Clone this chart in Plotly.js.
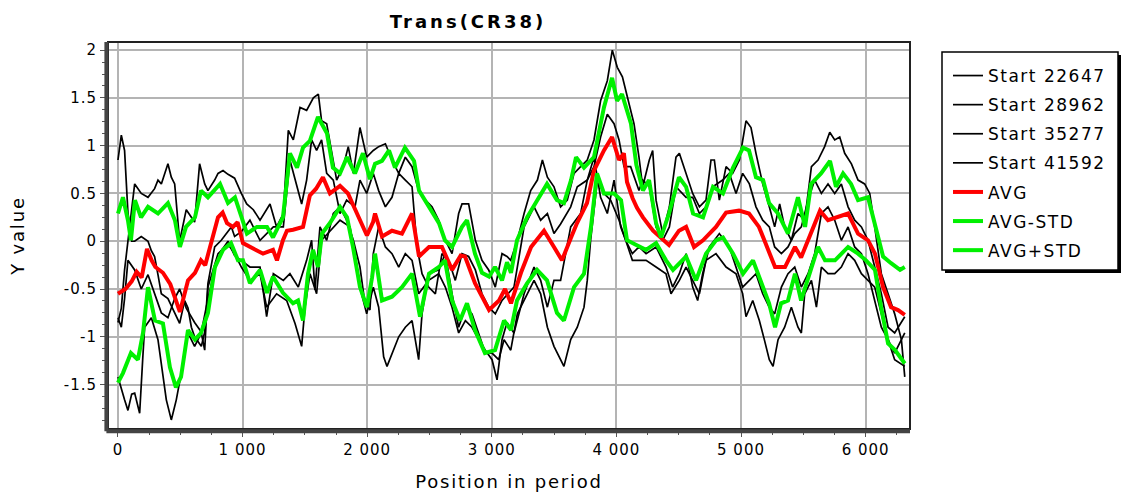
<!DOCTYPE html>
<html>
<head>
<meta charset="utf-8">
<script src="https://cdn.plot.ly/plotly-3.0.1.min.js"></script>
<style>
html, body { margin: 0; padding: 0; background: #ffffff; }
#chart { width: 1124px; height: 495px; }
.gtitle { letter-spacing: 3px; }
.xtitle, .ytitle { letter-spacing: 1.8px; }
.legendtext { letter-spacing: 1.5px; }
.xtick text, .ytick text { letter-spacing: 1px; }
</style>
</head>
<body>
<div id="chart"></div>
<script>
// ---- Data: [position, value] pairs ----
const start22647 = [[0,0.85],[27,1.11],[53,0.95],[80,0.3],[110,0.0],[134,0.0],[187,0.05],[241,0.0],[268,-0.1],[294,-0.16],[321,-0.35],[348,-0.55],[401,-0.6],[455,-0.76],[495,-0.86],[535,-0.62],[562,-0.7],[589,-0.9],[615,-1.0],[669,-1.1],[696,-0.95],[722,-0.44],[776,-0.06],[829,0.01],[870,0.08],[910,0.15],[936,0.05],[990,0.1],
[1059,0.22],[1140,0.01],[1247,0.15],[1327,0.15],[1380,0.85],[1434,0.57],[1474,0.39],[1514,0.64],[1554,1.06],[1594,0.95],[1634,1.06],[1675,0.71],[1728,0.64],[1782,0.29],[1835,0.43],[1902,0.36],[1942,0.64],[1996,0.5],[2049,0.71],
[2092,0.53],[2146,0.36],[2199,0.46],[2253,0.71],[2306,0.64],[2360,0.57],[2400,-0.06],[2440,-0.34],[2493,-0.48],[2547,-0.55],[2600,-0.13],[2654,-0.2],[2707,-0.41],[2761,-0.13],[2814,-0.16],[2868,-0.3],[2921,-0.55],[2975,-0.69],[3028,-0.76],[3082,-0.62],
[3178,-0.48],[3259,0.15],[3339,0.36],[3392,0.22],[3446,0.29],[3499,0.08],[3552,0.18],[3633,0.36],[3686,0.57],[3766,0.64],[3820,0.78],[3873,1.09],[3927,1.33],[3981,1.23],[4021,1.06],[4061,0.78],[4114,0.78],[4181,0.53],
[4211,0.64],[4264,0.57],[4318,0.15],[4371,0.01],[4425,0.15],[4478,0.57],[4559,0.46],[4612,0.46],[4666,0.29],[4719,0.36],[4773,0.57],[4853,0.64],[4906,0.71],[4960,0.5],[5013,0.71],[5067,0.6],[5120,0.36],[5174,0.22],[5227,0.15],
[5270,-0.06],[5324,-0.13],[5377,-0.06],[5431,0.08],[5484,0.15],[5538,0.43],[5591,0.64],[5645,0.5],[5698,0.6],[5752,0.5],[5805,0.6],[5859,0.36],[5912,0.22],[5966,0.15],[6019,0.01],[6073,-0.27],[6126,-0.55],[6180,-0.9],[6233,-0.96],[6314,-0.79]];

const start28962 = [[0,-0.85],[27,-0.7],[53,-0.3],[80,0.0],[110,0.35],[134,0.6],[187,0.5],[241,0.46],[294,0.55],[321,0.64],[348,0.6],[388,0.75],[401,0.81],[428,0.67],[455,0.6],[495,0.0],[548,0.33],[589,0.25],[615,0.2],[655,0.81],[696,0.6],[722,0.53],[776,0.64],[803,0.71],[843,0.74],[883,0.7],[936,0.66],[990,0.5],
[1033,0.39],[1086,0.33],[1140,0.22],[1220,0.39],[1273,0.15],[1327,0.29],[1367,1.16],[1407,1.06],[1461,1.4],[1514,1.37],[1568,1.5],[1608,1.54],[1634,1.26],[1675,1.23],[1715,0.95],[1755,0.64],[1808,0.78],[1848,0.99],[1889,0.71],[1942,1.19],[1996,0.88],[2049,0.95],
[2092,0.99],[2146,1.02],[2199,0.85],[2253,0.71],[2306,0.88],[2360,0.78],[2413,0.53],[2467,0.43],[2520,0.36],[2574,0.22],[2627,0.01],[2681,-0.13],[2734,0.29],[2761,0.39],[2814,0.39],[2868,0.01],[2921,-0.2],[2975,-0.3],[3028,-0.48],[3082,-0.13],[3122,-0.16],
[3152,-0.2],[3205,0.01],[3259,0.29],[3312,0.53],[3366,0.64],[3406,0.85],[3446,0.67],[3499,0.57],[3552,0.36],[3606,0.43],[3660,0.71],[3713,0.78],[3766,0.85],[3820,1.06],[3873,1.47],[3927,1.68],[3967,2.0],[4007,1.82],[4048,1.72],[4088,1.51],[4141,1.23],[4181,0.88],
[4211,0.57],[4264,0.85],[4291,0.95],[4318,0.43],[4371,0.08],[4425,0.36],[4478,0.88],[4505,0.92],[4559,0.71],[4612,0.5],[4666,0.36],[4719,0.43],[4759,0.85],[4786,0.85],[4826,0.43],[4880,0.78],[4933,0.71],[4987,0.85],[5040,1.26],[5080,1.19],[5120,0.92],[5174,0.6],[5227,0.36],
[5270,0.15],[5310,0.39],[5350,0.15],[5404,0.01],[5457,0.29],[5511,0.22],[5565,0.78],[5618,0.85],[5671,0.99],[5712,1.14],[5752,1.06],[5792,1.09],[5832,0.92],[5886,0.81],[5939,0.64],[5992,0.6],[6033,0.5],[6073,0.15],[6126,-0.34],[6180,-0.55],[6233,-0.76],[6287,-1.03],[6314,-1.42]];

const start35277 = [[0,-0.8],[27,-0.9],[53,-0.6],[80,-0.2],[134,-0.3],[187,-0.5],[241,-0.35],[294,-0.55],[348,-0.75],[401,-0.8],[455,-0.6],[495,-0.5],[548,-0.7],[615,-0.85],[669,-0.95],[722,-0.6],[776,-0.3],[829,-0.1],[883,0.0],[936,-0.15],[990,-0.2],
[1059,-0.27],[1140,-0.27],[1193,-0.79],[1247,-0.34],[1327,-0.41],[1380,-0.34],[1447,-0.48],[1514,-0.2],[1554,0.01],[1581,-0.51],[1621,0.15],[1675,0.01],[1728,0.29],[1782,0.36],[1835,0.22],[1889,0.01],[1942,-0.27],[1982,-0.65],[2022,-0.72],[2049,-0.13],
[2092,0.15],[2146,-0.06],[2199,-0.13],[2253,-0.27],[2306,-0.13],[2360,-0.2],[2413,-0.55],[2493,-0.41],[2574,-0.34],[2627,-0.48],[2681,-0.69],[2734,-0.96],[2788,-0.83],[2841,-0.9],[2895,-1.03],[2948,-1.14],[3002,-1.24],[3042,-1.45],[3082,-1.03],
[3122,-0.85],[3178,-0.96],[3259,-0.55],[3339,-0.27],[3392,-0.41],[3446,-0.69],[3499,-0.41],[3552,-0.41],[3633,0.15],[3713,0.29],[3766,0.64],[3820,0.88],[3873,0.46],[3927,0.29],[3981,0.64],[4034,0.15],[4074,0.01],[4128,-0.13],[4181,-0.06],
[4238,-0.13],[4318,-0.06],[4398,-0.27],[4451,-0.48],[4505,-0.34],[4559,-0.13],[4612,-0.48],[4652,-0.62],[4692,-0.34],[4746,-0.06],[4826,0.08],[4906,-0.06],[4960,-0.27],[5013,-0.48],[5067,-0.41],[5120,-0.34],[5174,-0.55],[5227,-0.69],
[5270,-0.76],[5324,-0.48],[5377,-0.34],[5431,-0.27],[5484,-0.48],[5538,-0.34],[5591,-0.13],[5645,0.29],[5698,0.36],[5752,0.22],[5805,0.01],[5859,0.15],[5912,-0.06],[5966,-0.13],[6019,-0.34],[6073,-0.62],[6126,-0.9],[6180,-1.03],[6233,-1.17],[6314,-0.96]];

const start41592 = [[0,-1.42],[27,-1.55],[53,-1.66],[80,-1.77],[110,-1.6],[134,-1.59],[174,-1.8],[200,-1.2],[214,-0.9],[241,-0.85],[268,-0.8],[321,-1.03],[388,-1.66],[428,-1.87],[468,-1.66],[508,-1.38],[562,-0.96],[615,-1.1],[669,-0.96],[696,-1.14],[722,-0.48],[803,-0.13],[883,-0.03],[936,-0.13],[990,-0.27],
[1059,-0.41],[1140,-0.34],[1193,-0.69],[1273,-0.55],[1354,-0.62],[1421,-0.86],[1474,-1.1],[1501,-0.69],[1541,-0.34],[1594,-0.55],[1634,0.01],[1701,0.11],[1782,0.22],[1862,0.15],[1915,-0.27],[1955,-0.55],[1996,-0.76],[2049,-0.48],
[2092,-0.69],[2132,-1.21],[2159,-1.31],[2199,-1.17],[2253,-1.0],[2306,-0.9],[2360,-0.83],[2413,-1.24],[2440,-0.76],[2493,-0.34],[2574,-0.3],[2627,-0.13],[2681,-0.55],[2734,-0.9],[2788,-0.69],[2841,-0.76],[2895,-0.96],[2948,-1.17],[3002,-1.17],[3055,-1.24],[3098,-1.03],
[3152,-1.14],[3205,-0.76],[3259,-0.62],[3339,-0.41],[3392,-0.55],[3446,-0.9],[3499,-1.1],[3539,-1.21],[3579,-1.31],[3633,-1.03],[3686,-0.9],[3740,-0.69],[3766,-0.41],[3793,0.01],[3847,0.64],[3900,0.5],[3954,0.43],[4021,0.22],[4074,0.01],[4128,-0.2],[4181,-0.2],
[4238,-0.2],[4318,-0.27],[4398,-0.34],[4438,-0.55],[4505,-0.41],[4559,-0.27],[4612,-0.41],[4666,-0.55],[4719,-0.2],[4799,-0.13],[4880,-0.27],[4960,-0.34],[5013,-0.55],[5040,-0.79],[5094,-0.62],[5147,-0.83],[5187,-1.03],[5227,-1.24],
[5257,-1.31],[5297,-1.03],[5350,-0.9],[5404,-0.69],[5457,-0.9],[5484,-0.96],[5511,-0.55],[5565,-0.41],[5605,-0.69],[5645,-0.27],[5698,-0.34],[5752,-0.34],[5805,-0.27],[5859,-0.13],[5912,-0.2],[5966,-0.34],[6019,-0.41],[6073,-0.48],[6126,-0.76],[6180,-1.03],[6233,-1.24],[6314,-1.31]];

const avg = [[0,-0.55],[60,-0.5],[110,-0.42],[150,-0.32],[190,-0.38],[233,-0.08],[270,-0.2],[300,-0.27],[361,-0.33],[420,-0.45],[497,-0.74],[530,-0.55],[562,-0.41],[618,-0.33],[666,-0.2],[700,-0.25],[746,-0.02],[803,0.25],[840,0.3],[875,0.19],[923,0.15],[960,0.2],[1003,-0.02],[1084,-0.08],[1164,-0.13],[1244,-0.09],[1276,-0.2],[1324,0.01],[1356,0.11],[1405,0.12],[1485,0.15],[1540,0.48],[1590,0.55],[1645,0.67],[1701,0.5],[1782,0.58],[1846,0.5],[1880,0.4],[1942,0.22],[1998,0.06],[2047,0.2],[2063,0.29],[2119,0.05],[2199,0.11],[2279,0.08],[2360,0.29],[2416,-0.16],[2496,-0.06],[2600,-0.06],[2681,-0.3],[2750,-0.15],[2785,-0.16],[2865,-0.44],[2930,-0.6],[2978,-0.72],[3058,-0.62],[3106,-0.5],[3154,-0.65],[3234,-0.33],[3315,-0.06],[3419,0.11],[3499,-0.06],[3563,-0.2],[3636,0.04],[3684,0.19],[3764,0.4],[3820,0.74],[3900,0.95],[3965,1.09],[4021,0.85],[4060,0.92],[4085,0.62],[4130,0.45],[4165,0.35],[4213,0.25],[4294,0.11],[4374,0.01],[4422,-0.04],[4502,0.11],[4559,0.15],[4623,-0.06],[4695,0.01],[4799,0.15],[4880,0.3],[4984,0.32],[5064,0.29],[5144,0.15],[5225,-0.1],[5273,-0.27],[5353,-0.27],[5433,-0.06],[5482,-0.17],[5562,0.08],[5634,0.32],[5698,0.22],[5778,0.25],[5859,0.29],[5939,0.08],[6019,0.01],[6075,-0.13],[6140,-0.48],[6204,-0.69],[6260,-0.72],[6314,-0.77]];

const avgMinusStd = [[0,-1.48],[40,-1.38],[104,-1.17],[160,-1.24],[201,-0.96],[241,-0.48],[297,-0.83],[361,-0.86],[417,-1.32],[465,-1.53],[506,-1.42],[562,-0.93],[618,-1.03],[666,-0.96],[722,-0.75],[778,-0.27],[843,-0.09],[907,-0.02],[963,-0.2],[1003,-0.2],[1059,-0.44],[1140,-0.3],[1196,-0.54],[1244,-0.37],[1324,-0.54],[1405,-0.65],[1445,-0.62],[1485,-0.83],[1525,-0.34],[1565,-0.09],[1605,-0.27],[1637,0.08],[1701,0.19],[1782,0.36],[1838,0.25],[1886,-0.06],[1942,-0.48],[1998,-0.69],[2039,-0.38],[2063,-0.13],[2119,-0.62],[2199,-0.58],[2279,-0.48],[2360,-0.34],[2424,-0.79],[2496,-0.34],[2576,-0.27],[2624,-0.2],[2681,-0.62],[2745,-0.83],[2801,-0.65],[2865,-0.93],[2945,-1.17],[3026,-1.14],[3098,-0.83],[3154,-0.93],[3202,-0.62],[3283,-0.44],[3363,-0.3],[3443,-0.41],[3523,-0.75],[3579,-0.83],[3660,-0.48],[3740,-0.34],[3796,0.15],[3844,0.71],[3900,0.5],[3981,0.5],[4037,0.43],[4085,0.01],[4160,-0.04],[4237,-0.09],[4318,-0.02],[4398,-0.2],[4454,-0.3],[4559,-0.16],[4639,-0.41],[4719,-0.13],[4799,0.01],[4855,0.04],[4936,-0.13],[5016,-0.34],[5096,-0.2],[5177,-0.48],[5225,-0.65],[5273,-0.9],[5321,-0.65],[5377,-0.62],[5433,-0.34],[5482,-0.62],[5562,-0.3],[5618,-0.06],[5674,-0.2],[5754,-0.2],[5859,-0.06],[5939,-0.13],[6003,-0.2],[6075,-0.3],[6124,-0.69],[6180,-1.07],[6236,-1.14],[6314,-1.28]];

const avgPlusStd = [[0,0.29],[40,0.46],[80,0.22],[104,0.01],[136,0.43],[185,0.25],[241,0.36],[321,0.29],[401,0.4],[457,0.22],[497,-0.06],[546,0.15],[618,0.25],[666,0.53],[722,0.46],[819,0.6],[883,0.4],[939,0.46],[987,0.27],[1035,0.08],[1115,0.15],[1196,0.15],[1244,0.04],[1324,0.25],[1380,0.92],[1437,0.77],[1485,0.98],[1540,1.05],[1605,1.3],[1677,1.13],[1725,0.77],[1782,0.71],[1838,0.88],[1902,0.71],[1966,0.92],[2022,0.65],[2063,0.81],[2119,0.84],[2175,0.95],[2223,0.77],[2303,0.98],[2376,0.84],[2416,0.53],[2496,0.36],[2576,0.19],[2624,0.01],[2681,-0.06],[2761,0.15],[2801,0.22],[2865,-0.13],[2921,-0.33],[2978,-0.37],[3026,-0.27],[3082,-0.41],[3122,-0.22],[3154,-0.33],[3202,0.01],[3283,0.25],[3363,0.43],[3443,0.6],[3523,0.43],[3579,0.4],[3636,0.64],[3676,0.88],[3740,0.77],[3820,0.88],[3900,1.4],[3965,1.71],[4005,1.47],[4045,1.54],[4117,1.23],[4160,0.8],[4213,0.53],[4262,0.64],[4318,0.19],[4358,0.04],[4422,0.29],[4502,0.67],[4559,0.57],[4615,0.29],[4695,0.25],[4775,0.57],[4855,0.5],[4936,0.77],[5016,0.98],[5064,0.95],[5120,0.67],[5177,0.64],[5225,0.4],[5297,0.29],[5377,0.08],[5457,0.46],[5514,0.15],[5562,0.6],[5642,0.71],[5714,0.84],[5762,0.57],[5819,0.71],[5883,0.6],[5939,0.43],[6019,0.46],[6075,0.19],[6140,-0.16],[6204,-0.23],[6276,-0.3],[6314,-0.27]];

const seriesNames = ['Start 22647','Start 28962','Start 35277','Start 41592','AVG','AVG-STD','AVG+STD'];
const seriesData = [start22647, start28962, start35277, start41592, avg, avgMinusStd, avgPlusStd];
const seriesColors = ['#000000','#000000','#000000','#000000','#ff0000','#00f000','#00f000'];
const seriesWidths = [1.7,1.7,1.7,1.7,4,4,4];

const xTickVals = [0,1000,2000,3000,4000,5000,6000];
const yTickVals = [-1.5,-1,-0.5,0,0.5,1,1.5,2];
const yTickText = ['-1.5','-1','-0.5','0','0.5','1','1.5','2'];

// ---- Build traces ----
const traces = seriesData.map((d, i) => ({
  type: 'scatter',
  mode: 'lines',
  name: seriesNames[i],
  legendgroup: 'g' + i,
  x: d.map(p => p[0]),
  y: d.map(p => p[1]),
  line: { color: seriesColors[i], width: seriesWidths[i] },
  hoverinfo: 'skip'
}));

const FONT = 'DejaVu Sans, Verdana, sans-serif';
const px2x = px => (px - 108) / 802;
const px2y = py => 1 - (py - 42) / 387;

const layout = {
  width: 1124,
  height: 495,
  margin: { l: 108, r: 214, t: 42, b: 66 },
  paper_bgcolor: '#ffffff',
  plot_bgcolor: '#ffffff',
  font: { family: FONT, size: 15, color: '#000000' },
  separators: '. ',
  title: {
    text: 'Trans(CR38)',
    font: { family: FONT, size: 18, weight: 'bold', color: '#000000' },
    x: px2x(468), xref: 'paper', xanchor: 'center',
    y: 1 - 22 / 495, yref: 'container', yanchor: 'middle'
  },
  xaxis: {
    range: [-80, 6356],
    tickvals: xTickVals,
    separatethousands: true,
    tickformat: ',d',
    ticks: 'outside', ticklen: 7, tickwidth: 1, tickcolor: '#555555',
    minor: { dtick: 250, tick0: 0, ticks: 'outside', ticklen: 5, tickcolor: '#555555', showgrid: false },
    showgrid: true, gridcolor: '#b4b4b4', gridwidth: 2,
    zeroline: false, showline: false,
    tickfont: { family: FONT, size: 15, color: '#000000' },
    title: { text: 'Position in period', font: { family: FONT, size: 18, color: '#000000' }, standoff: 17 }
  },
  yaxis: {
    range: [-1.965, 2.085],
    tickvals: yTickVals,
    ticktext: yTickText,
    ticks: 'outside', ticklen: 7, tickwidth: 1, tickcolor: '#555555',
    minor: { dtick: 0.125, tick0: 0, ticks: 'outside', ticklen: 5, tickcolor: '#555555', showgrid: false },
    showgrid: true, gridcolor: '#b4b4b4', gridwidth: 2,
    zeroline: false, showline: false,
    tickfont: { family: FONT, size: 15, color: '#000000' },
    title: { text: 'Y value', font: { family: FONT, size: 18, color: '#000000' }, standoff: 34 }
  },
  showlegend: true,
  legend: {
    x: px2x(948), y: px2y(58), xanchor: 'left', yanchor: 'top',
    xref: 'paper', yref: 'paper',
    bgcolor: 'rgba(0,0,0,0)', borderwidth: 0,
    font: { family: FONT, size: 17, color: '#000000' },
    tracegroupgap: 4,
    itemwidth: 30
  },
  shapes: [
    // plot frame
    { type: 'rect', xref: 'paper', yref: 'paper', x0: 0, x1: 1, y0: 0, y1: 1, line: { color: '#222222', width: 2 }, layer: 'above' },
    { type: 'line', xref: 'paper', yref: 'paper', x0: -0.002, x1: -0.002, y0: -0.006, y1: 1, line: { color: '#444444', width: 4 }, layer: 'above' },
    { type: 'line', xref: 'paper', yref: 'paper', x0: -0.002, x1: 1, y0: -0.006, y1: -0.006, line: { color: '#444444', width: 4 }, layer: 'above' },
    // legend shadow and box
    { type: 'rect', xref: 'paper', yref: 'paper', x0: px2x(945), x1: px2x(1121), y0: px2y(273), y1: px2y(55), fillcolor: '#000000', line: { width: 0 }, layer: 'below' },
    { type: 'rect', xref: 'paper', yref: 'paper', x0: px2x(942), x1: px2x(1118), y0: px2y(270), y1: px2y(52), fillcolor: '#ffffff', line: { color: '#000000', width: 1.5 }, layer: 'below' }
  ]
};

Plotly.newPlot('chart', traces, layout, { displayModeBar: false, staticPlot: true });
</script>
</body>
</html>
